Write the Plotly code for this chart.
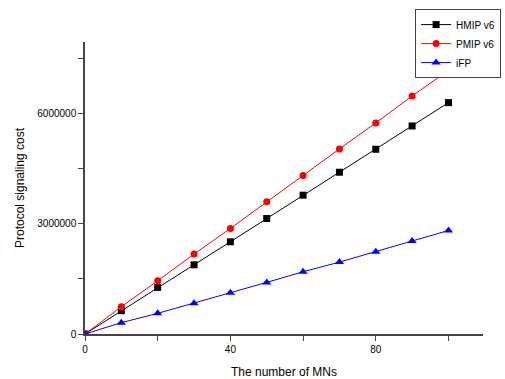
import plotly.graph_objects as go

mns = [0, 10, 20, 30, 40, 50, 60, 70, 80, 90, 100]
hmip = [0, 635000, 1270000, 1887000, 2514000, 3149000, 3784000, 4410000, 5036000, 5671000, 6307000]
pmip = [0, 744000, 1452000, 2178000, 2877000, 3603000, 4319000, 5045000, 5753000, 6488000, 7187000]
ifp = [0, 309000, 563000, 835000, 1125000, 1407000, 1697000, 1960000, 2241000, 2532000, 2822000]

x_ticks = [0, 20, 40, 60, 80, 100]
x_labels = ["0", "", "40", "", "80", ""]
y_ticks = [0, 1500000, 3000000, 4500000, 6000000, 7500000]
y_labels = ["0", "", "3000000", "", "6000000", ""]

fig = go.Figure()
fig.add_trace(go.Scatter(x=mns, y=hmip, name="HMIP v6", mode="lines+markers",
                         line=dict(color="black", width=1),
                         marker=dict(symbol="square", size=7, color="black")))
fig.add_trace(go.Scatter(x=mns, y=pmip, name="PMIP v6", mode="lines+markers",
                         line=dict(color="red", width=1),
                         marker=dict(symbol="circle", size=7, color="red")))
fig.add_trace(go.Scatter(x=mns, y=ifp, name="iFP", mode="lines+markers",
                         line=dict(color="blue", width=1),
                         marker=dict(symbol="triangle-up", size=8, color="blue")))

fig.update_layout(
    width=505, height=379,
    margin=dict(l=85, r=22, t=42, b=45, autoexpand=False),
    paper_bgcolor="white", plot_bgcolor="white",
    font=dict(family="Liberation Sans, Arial, sans-serif", color="black"),
    showlegend=True,
    legend=dict(xref="container", yref="container", x=0.822, y=0.976,
                xanchor="left", yanchor="top",
                bordercolor="#444", borderwidth=1, bgcolor="white",
                font=dict(size=10), itemwidth=30, tracegroupgap=0),
    xaxis=dict(range=[0, 109.5], tickvals=x_ticks, ticktext=x_labels,
               ticks="outside", ticklen=5, tickcolor="#444", showline=True,
               linecolor="#444", linewidth=1.5, showgrid=False, zeroline=False,
               tickfont=dict(size=10), automargin=False,
               title=dict(text="The number of MNs", font=dict(size=12), standoff=14)),
    yaxis=dict(range=[0, 7.96e6], tickvals=y_ticks, ticktext=y_labels,
               ticks="outside", ticklen=5, tickcolor="#444", showline=True,
               linecolor="#444", linewidth=1.5, showgrid=False, zeroline=False,
               tickfont=dict(size=10), automargin=False,
               title=dict(text="Protocol signaling cost", font=dict(size=12), standoff=10)),
)

fig.write_html("out.html")
